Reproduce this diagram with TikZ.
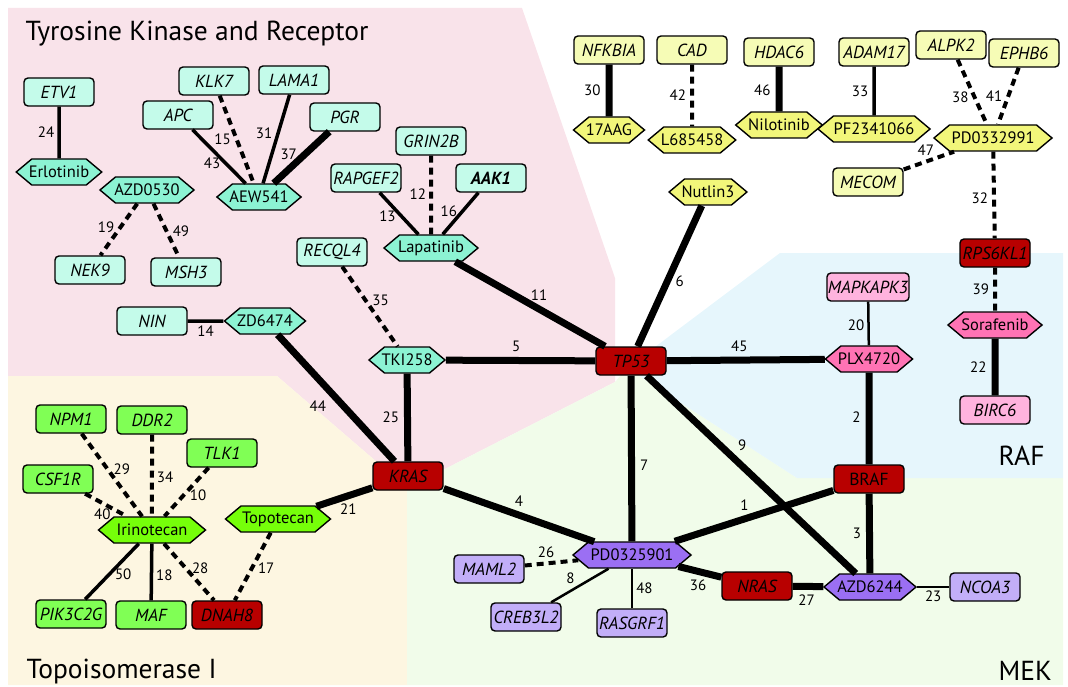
\documentclass[tikz,border=0pt]{standalone}
\usepackage{fontspec}
\setmainfont{PT Sans}
\usetikzlibrary{shapes.symbols, positioning}

\definecolor{bgpink}{HTML}{F9E3EA}
\definecolor{bgcream}{HTML}{FDF6E1}
\definecolor{bgmint}{HTML}{F1FCEA}
\definecolor{bgsky}{HTML}{E6F6FC}
\definecolor{tkgenefill}{HTML}{C4FBEA}
\definecolor{tkdrugfill}{HTML}{8CF3D3}
\definecolor{ylgenefill}{HTML}{F6FCB6}
\definecolor{yldrugfill}{HTML}{F2F67A}
\definecolor{rafgenefill}{HTML}{FFB3DE}
\definecolor{rafdrugfill}{HTML}{FF73B4}
\definecolor{mekgenefill}{HTML}{C2AEF8}
\definecolor{mekdrugfill}{HTML}{9B6FF3}
\definecolor{topogenefill}{HTML}{80FF55}
\definecolor{topodrugfill}{HTML}{76FF0A}
\definecolor{hubfill}{HTML}{B80000}

\begin{document}
\begin{tikzpicture}[
    x=1pt, y=-1pt,
    on grid,
    every node/.style={font=\fontsize{17.5}{19}\selectfont},
    gene/.style={draw=black, line width=1.4pt, rounded corners=4pt, minimum width=70pt, minimum height=28pt, inner sep=1pt, font=\fontsize{17.5}{19}\selectfont\itshape},
    drug/.style={draw=black, line width=1.4pt, signal, signal to=east and west, signal pointer angle=80, minimum height=26pt, inner xsep=-3pt, inner ysep=1pt, font=\fontsize{16.5}{18}\selectfont},
    tkgene/.style={gene, fill=tkgenefill},   tkdrug/.style={drug, fill=tkdrugfill},
    ylgene/.style={gene, fill=ylgenefill},   yldrug/.style={drug, fill=yldrugfill},
    rafgene/.style={gene, fill=rafgenefill}, rafdrug/.style={drug, fill=rafdrugfill},
    mekgene/.style={gene, fill=mekgenefill}, mekdrug/.style={drug, fill=mekdrugfill},
    topogene/.style={gene, fill=topogenefill}, topodrug/.style={drug, fill=topodrugfill},
    hub/.style={gene, fill=hubfill},
    region/.style={anchor=base west, font=\fontsize{27.5}{30}\selectfont},
    lbl/.style={inner sep=1pt, font=\fontsize{15}{17}\selectfont},
    heavyedge/.style={line width=7pt},
    midedge/.style={line width=3.5pt},
    thinedge/.style={line width=2.5pt},
    dashedge/.style={line width=4pt, dash pattern=on 7pt off 5pt},
    every edge/.append style={draw=black}
]
   \useasboundingbox (0,0) rectangle (1068,687);

   % Background regions
   \fill[bgpink] (8,8) -- (522,8) -- (615,278) -- (615,382) -- (443,470) -- (407,488) -- (277,376) -- (8,376) -- cycle;
   \fill[bgcream] (8,376) -- (277,376) -- (407,488) -- (407,685) -- (8,685) -- cycle;
   \fill[bgmint] (407,488) -- (443,470) -- (615,382) -- (627,368) -- (797,478) -- (1063,478) -- (1063,685) -- (407,685) -- cycle;
   \fill[bgsky] (627,368) -- (780,253) -- (1063,253) -- (1063,478) -- (797,478) -- cycle;

   \node[region] (tktitle) at (22,41) {Tyrosine Kinase and Receptor};
   \node[region] (topotitle) at (23,678) {Topoisomerase I};
   \node[region] (raftitle) at (995,465) {RAF};
   \node[region] (mektitle) at (995,680) {MEK};

   % Tyrosine kinase and receptor
   \node[tkgene] (etv1) at (59,92) {ETV1};
   \node[tkdrug, minimum width=82pt] (erlotinib) [below=80pt of etv1] {Erlotinib};
   \node[tkgene] (klk7) at (214,81) {KLK7};
   \node[tkgene] (lama1) at (294,80) {LAMA1};
   \node[tkgene] (apc) at (178,115) {APC};
   \node[tkgene] (pgr) at (345,117) {PGR};
   \node[tkdrug, minimum width=81pt] (aew541) at (259,197) {AEW541};
   \node[tkdrug, minimum width=94pt] (azd0530) at (147,190) {AZD0530};
   \node[tkgene] (nek9) at (90,270) {NEK9};
   \node[tkgene] (msh3) at (186,272) {MSH3};
   \node[tkgene] (grin2b) at (431,141) {GRIN2B};
   \node[tkgene] (rapgef2) at (366,178) {RAPGEF2};
   \node[tkgene, font=\fontsize{17.5}{19}\selectfont\bfseries\itshape] (aak1) at (491,178) {AAK1};
   \node[tkdrug, minimum width=94pt] (lapatinib) [below=107pt of grin2b] {Lapatinib};
   \node[tkgene] (recql4) at (332,252) {RECQL4};
   \node[tkgene] (nin) at (152,321) {NIN};
   \node[tkdrug, minimum width=81pt] (zd6474) at (265,321) {ZD6474};
   \node[tkdrug, minimum width=69pt] (tki258) at (407,360) {TKI258};

   % Hub genes
   \node[hub] (tp53) at (631,361) {TP53};
   \node[hub] (kras) at (408,476) {KRAS};
   \node[hub, font=\fontsize{17.5}{19}\selectfont] (braf) at (869,479) {BRAF};
   \node[hub] (nras) at (757,586) {NRAS};
   \node[hub] (rps6kl1) at (995,253) {RPS6KL1};
   \node[hub] (dnah8) at (227,615) {DNAH8};

   % Other drugs
   \node[ylgene] (nfkbia) at (609,50) {NFKBIA};
   \node[yldrug, minimum width=71pt] (aag17) [below=80pt of nfkbia] {17AAG};
   \node[ylgene] (cad) at (692,50) {CAD};
   \node[yldrug, minimum width=82pt] (l685458) [below=90pt of cad] {L685458};
   \node[ylgene] (hdac6) at (779,52) {HDAC6};
   \node[yldrug, minimum width=82pt] (nilotinib) [below=73pt of hdac6] {Nilotinib};
   \node[ylgene] (adam17) at (874,52) {ADAM17};
   \node[yldrug, minimum width=112pt] (pf2341066) [below=77pt of adam17] {PF2341066};
   \node[ylgene] (alpk2) at (951,45) {ALPK2};
   \node[ylgene] (ephb6) at (1024,53) {EPHB6};
   \node[yldrug, minimum width=118pt] (pd0332991) at (993,138) {PD0332991};
   \node[ylgene] (mecom) at (868,182) {MECOM};
   \node[yldrug, minimum width=77pt] (nutlin3) at (708,192) {Nutlin3};

   % RAF
   \node[rafgene, minimum width=82pt] (mapkapk3) at (868,287) {MAPKAPK3};
   \node[rafdrug, minimum width=82pt] (plx4720) at (869,359) {PLX4720};
   \node[rafdrug, minimum width=94pt] (sorafenib) at (995,325) {Sorafenib};
   \node[rafgene] (birc6) at (995,410) {BIRC6};

   % MEK
   \node[mekdrug, minimum width=118pt] (pd0325901) at (632,555) {PD0325901};
   \node[mekdrug, minimum width=92pt] (azd6244) at (870,587) {AZD6244};
   \node[mekgene] (maml2) at (489,569) {MAML2};
   \node[mekgene] (creb3l2) at (526,617) {CREB3L2};
   \node[mekgene] (rasgrf1) at (632,623) {RASGRF1};
   \node[mekgene] (ncoa3) at (985,587) {NCOA3};

   % Topoisomerase I
   \node[topogene] (npm1) at (71,419) {NPM1};
   \node[topogene] (ddr2) at (152,420) {DDR2};
   \node[topogene] (tlk1) at (222,453) {TLK1};
   \node[topogene] (csf1r) at (58,479) {CSF1R};
   \node[topodrug, minimum width=107pt] (irinotecan) at (152,530) {Irinotecan};
   \node[topodrug, minimum width=105pt] (topotecan) at (278,519) {Topotecan};
   \node[topogene] (pik3c2g) at (71,614) {PIK3C2G};
   \node[topogene] (maf) at (151,615) {MAF};

   % Interactions
   \path
   (etv1) edge[midedge] node[lbl, left=2pt] {24} (erlotinib)
   (apc) edge[midedge] node[lbl, pos=.63, left=3pt] {43} (aew541)
   (klk7) edge[dashedge] node[lbl, pos=.5, left=3pt] {15} (aew541)
   (lama1) edge[midedge] node[lbl, pos=.44, left=3pt] {31} (aew541)
   (pgr) edge[heavyedge] node[lbl, pos=.43, left=4pt] {37} (aew541)
   (azd0530) edge[dashedge] node[lbl, pos=.46, left=3pt] {19} (nek9)
   (azd0530) edge[dashedge] node[lbl, pos=.52, right=3pt] {49} (msh3)
   (rapgef2) edge[midedge] node[lbl, pos=.56, left=3pt] {13} (lapatinib)
   (grin2b) edge[dashedge] node[lbl, pos=.49, left=2pt] {12} (lapatinib)
   (aak1) edge[midedge] node[lbl, pos=.44, left=3pt] {16} (lapatinib)
   (recql4) edge[dashedge] node[lbl, pos=.42, right=4pt] {35} (tki258)
   (nin) edge[midedge] node[lbl, below=2pt] {14} (zd6474)
   (lapatinib) edge[heavyedge] node[lbl, pos=.56, above=4pt] {11} (tp53)
   (zd6474) edge[heavyedge] node[lbl, pos=.47, below left=3pt] {44} (kras)
   (tki258) edge[heavyedge] node[lbl, left=4pt] {25} (kras)
   (tki258) edge[heavyedge] node[lbl, pos=.47, above=4pt] {5} (tp53)

   (nfkbia) edge[heavyedge] node[lbl, left=4pt] {30} (aag17)
   (cad) edge[dashedge] node[lbl, pos=.49, left=3pt] {42} (l685458)
   (hdac6) edge[heavyedge] node[lbl, pos=.52, left=4pt] {46} (nilotinib)
   (adam17) edge[midedge] node[lbl, left=3pt] {33} (pf2341066)
   (alpk2) edge[dashedge] node[lbl, pos=.58, left=3pt] {38} (pd0332991)
   (ephb6) edge[dashedge] node[lbl, pos=.5, left=3pt] {41} (pd0332991)
   (mecom) edge[dashedge] node[lbl, pos=.44, above=3pt] {47} (pd0332991)
   (pd0332991) edge[dashedge] node[lbl, pos=.54, left=3pt] {32} (rps6kl1)
   (nutlin3) edge[heavyedge] node[lbl, pos=.54, right=4pt] {6} (tp53)

   (rps6kl1) edge[dashedge] node[lbl, left=3pt] {39} (sorafenib)
   (sorafenib) edge[heavyedge] node[lbl, left=4pt] {22} (birc6)
   (mapkapk3) edge[thinedge] node[lbl, pos=.55, left=2pt] {20} (plx4720)
   (tp53) edge[heavyedge] node[lbl, pos=.46, above=4pt] {45} (plx4720)
   (plx4720) edge[heavyedge] node[lbl, pos=.49, left=4pt] {2} (braf)

   (tp53) edge[heavyedge] node[lbl, pos=.54, right=4pt] {7} (pd0325901)
   (tp53) edge[heavyedge] node[lbl, pos=.41, above right=2pt] {9} (azd6244)
   (braf) edge[heavyedge] node[lbl, pos=.56, above=4pt] {1} (pd0325901)
   (braf) edge[heavyedge] node[lbl, left=4pt] {3} (azd6244)
   (kras) edge[heavyedge] node[lbl, pos=.5, above=4pt] {4} (pd0325901)
   (maml2) edge[dashedge] node[lbl, pos=.4, above=3pt] {26} (pd0325901)
   (creb3l2) edge[thinedge] node[lbl, pos=.46, above left=1pt] {8} (pd0325901)
   (rasgrf1) edge[thinedge] node[lbl, right=2pt] {48} (pd0325901)
   (pd0325901) edge[heavyedge] node[lbl, pos=.46, below=4pt] {36} (nras)
   (nras) edge[heavyedge] node[lbl, pos=.45, below=4pt] {27} (azd6244)
   (azd6244) edge[thinedge] node[lbl, below=2pt] {23} (ncoa3)

   (npm1) edge[dashedge] node[lbl, pos=.43, right=3pt] {29} (irinotecan)
   (ddr2) edge[dashedge] node[lbl, pos=.52, right=2pt] {34} (irinotecan)
   (tlk1) edge[dashedge] node[lbl, pos=.56, right=3pt] {10} (irinotecan)
   (csf1r) edge[dashedge] node[lbl, pos=.41, below=3pt] {40} (irinotecan)
   (irinotecan) edge[midedge] node[lbl, pos=.55, right=3pt] {50} (pik3c2g)
   (irinotecan) edge[midedge] node[lbl, pos=.55, right=2pt] {18} (maf)
   (irinotecan) edge[dashedge] node[lbl, pos=.44, right=3pt] {28} (dnah8)
   (topotecan) edge[dashedge] node[lbl, pos=.52, right=3pt] {17} (dnah8)
   (topotecan) edge[heavyedge] node[lbl, pos=.57, below=4pt] {21} (kras);
\end{tikzpicture}
\end{document}
